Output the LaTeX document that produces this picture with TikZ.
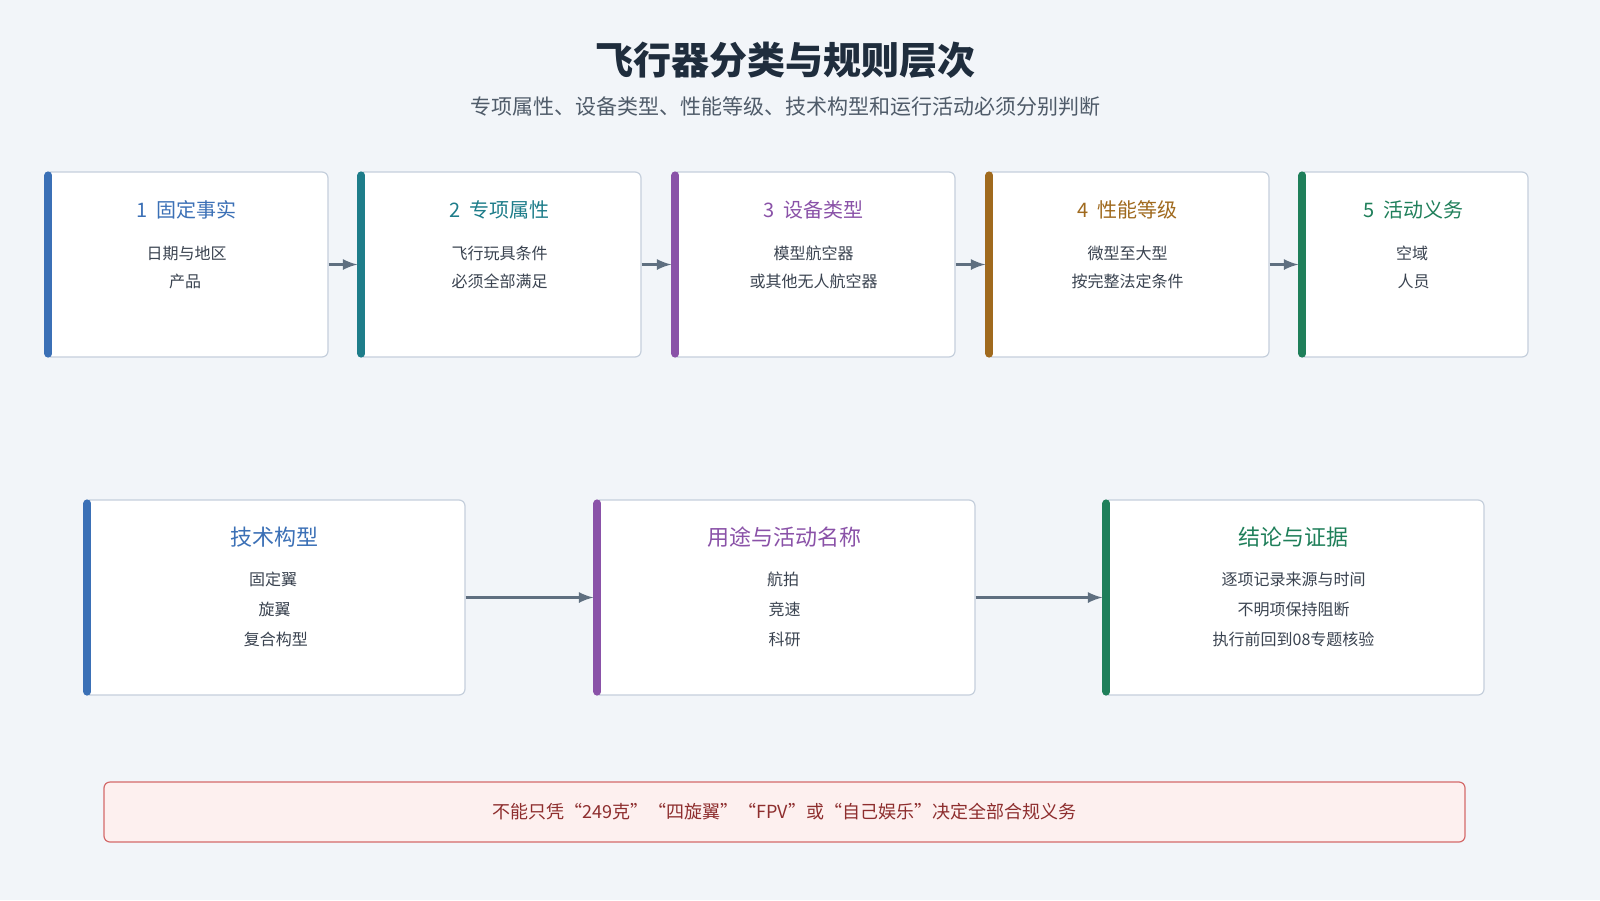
\documentclass[tikz,border=0pt]{standalone}
\usepackage{fontspec}
\setmainfont{Noto Sans CJK SC}
\usetikzlibrary{positioning}
\definecolor{bgc}{HTML}{F2F5F9}
\definecolor{edgec}{HTML}{C5CFDC}
\definecolor{textc}{HTML}{3A4350}
\definecolor{titlec}{HTML}{1F2D3D}
\definecolor{subc}{HTML}{4F5B69}
\definecolor{arrc}{HTML}{5F6F80}
\definecolor{cblue}{HTML}{3B70B6}
\definecolor{cteal}{HTML}{1E7D8A}
\definecolor{cpurple}{HTML}{8A52A8}
\definecolor{cbrown}{HTML}{A06A1E}
\definecolor{cgreen}{HTML}{1F7F5A}
\definecolor{warnbg}{HTML}{FDF0EF}
\definecolor{warnc}{HTML}{D46A6A}
\definecolor{warnt}{HTML}{8E2E2E}
\begin{document}
\begin{tikzpicture}[x=0.5pt,y=-0.5pt,
		>=latex,
		layer/.style={%
			draw=edgec,
			fill=white,
			rounded corners=3pt,
			line width=0.6pt,
			minimum width=141.5pt,
			minimum height=92.5pt
		},
		wide/.style={%
			layer,
			minimum width=190.5pt,
			minimum height=97.5pt
		},
		flow/.style={->,draw=arrc,line width=1.5pt}
		]
		\fill[bgc] (0,0) rectangle (1600,900);
		\node[text=titlec,font=\fontsize{19}{22}\selectfont\bfseries] (title) at (785,60) {飞行器分类与规则层次};
		\node[text=subc,font=\fontsize{10.5}{12}\selectfont] (sub) at (785,107) {专项属性、设备类型、性能等级、技术构型和运行活动必须分别判断};
		
		% first row
		\node[layer] (s1) at (186.5,264.5) {};
		\node[layer] (s2) at (499.5,264.5) {};
		\node[layer] (s3) at (813.5,264.5) {};
		\node[layer] (s4) at (1127.5,264.5) {};
		\node[layer,minimum width=114.5pt] (s5) at (1413.5,264.5) {};
		\foreach \n/\c/\t/\a/\b in {s1/cblue/1\ \ 固定事实/日期与地区/产品\,/\,配置\,/\,活动,
			s2/cteal/2\ \ 专项属性/飞行玩具条件/必须全部满足,
			s3/cpurple/3\ \ 设备类型/模型航空器/或其他无人航空器,
			s4/cbrown/4\ \ 性能等级/微型至大型/按完整法定条件,
			s5/cgreen/5\ \ 活动义务/空域\,/\,人员\,/\,主体/任务\,/\,数据\,/\,无线电}{
			\draw[\c,line width=4pt,line cap=round] ([xshift=2pt,yshift=-2pt]\n.north west) -- ([xshift=2pt,yshift=2pt]\n.south west);
			\node[text=\c,font=\fontsize{10}{12}\selectfont] at ([yshift=-19pt]\n.north) {\t};
			\node[text=textc,font=\fontsize{8}{14}\selectfont,align=center] at ([yshift=-48pt]\n.north) {\a\\\b};
		}
		\draw[flow] (s1) -- (s2);
		\draw[flow] (s2) -- (s3);
		\draw[flow] (s3) -- (s4);
		\draw[flow] (s4) -- (s5);
		
		% second row
		\node[wide] (tech) at (274.5,597.5) {};
		\node[wide] (use) at (784.5,597.5) {};
		\node[wide] (concl) at (1293.5,597.5) {};
		\foreach \n/\c/\t/\a/\b/\d in {tech/cblue/技术构型/固定翼\,/\,旋翼\,/\,复合构型/描述升力和飞行方式/不是法规分类的第四层,
			use/cpurple/用途与活动名称/航拍\,/\,竞速\,/\,科研\,/\,娱乐/不能改变设备技术属性/也不能替代运行判断,
			concl/cgreen/结论与证据/逐项记录来源与时间/不明项保持阻断/执行前回到08专题核验}{
			\draw[\c,line width=4pt,line cap=round] ([xshift=2pt,yshift=-2pt]\n.north west) -- ([xshift=2pt,yshift=2pt]\n.south west);
			\node[text=\c,font=\fontsize{11}{13}\selectfont] at ([yshift=-19pt]\n.north) {\t};
			\node[text=textc,font=\fontsize{8}{15}\selectfont,align=center] at ([yshift=-55pt]\n.north) {\a\\\b\\\d};
		}
		\draw[flow] (tech) -- (use);
		\draw[flow] (use) -- (concl);
		
		% warning
		\node[draw=warnc,fill=warnbg,rounded corners=3pt,line width=0.6pt,minimum width=680.5pt,minimum height=30pt,text=warnt,font=\fontsize{9}{11}\selectfont] (warn) at (784.5,812) {不能只凭“249克”“四旋翼”“FPV”或“自己娱乐”决定全部合规义务};
\end{tikzpicture}
\end{document}
